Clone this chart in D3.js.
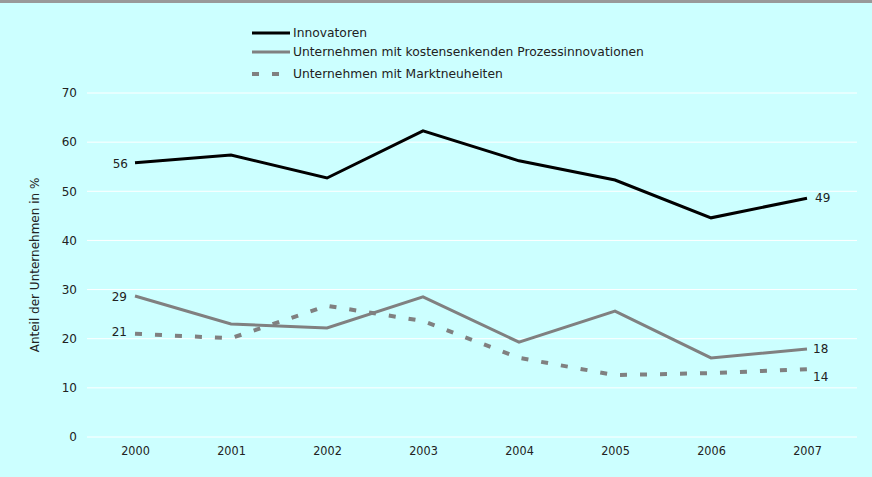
<!DOCTYPE html>
<html>
<head>
<meta charset="utf-8">
<script src="https://cdn.jsdelivr.net/npm/d3@7"></script>
<style>
  body { margin: 0; background: #ccffff; }
  svg { display: block; }
</style>
</head>
<body>
<div id="chart"></div>
<script>
// data
var years = ["2000", "2001", "2002", "2003", "2004", "2005", "2006", "2007"];
var innovatoren = [55.8, 57.4, 52.7, 62.3, 56.2, 52.3, 44.6, 48.6];
var prozess = [28.7, 23.0, 22.2, 28.5, 19.3, 25.6, 16.1, 17.9];
var markt = [21.0, 20.1, 26.7, 23.6, 16.1, 12.6, 13.0, 13.8];
var yTicks = [0, 10, 20, 30, 40, 50, 60, 70];
var seriesNames = [
  "Innovatoren",
  "Unternehmen mit kostensenkenden Prozessinnovationen",
  "Unternehmen mit Marktneuheiten",
];

var width = 872,
  height = 477;

var svg = d3
  .select("#chart")
  .append("svg")
  .attr("width", width)
  .attr("height", height)
  .style("font-family", "Verdana, 'DejaVu Sans', sans-serif");

svg.append("rect").attr("width", width).attr("height", height).attr("fill", "#ccffff");
svg.append("rect").attr("width", width).attr("height", 3).attr("fill", "#999999");

var x = d3.scalePoint().domain(years).range([135, 807]);
var y = d3.scaleLinear().domain([0, 70]).range([437, 93]);

// gridlines
svg
  .append("g")
  .selectAll("line")
  .data(yTicks)
  .enter()
  .append("line")
  .attr("x1", 87)
  .attr("x2", 857)
  .attr("y1", function (d) { return y(d); })
  .attr("y2", function (d) { return y(d); })
  .attr("stroke", "#ffffff")
  .attr("stroke-width", 1);

// y axis labels
var yAxis = svg
  .append("g")
  .attr("transform", "translate(77,0)")
  .call(d3.axisLeft(y).tickValues(yTicks).tickSize(0).tickPadding(0));
yAxis.select(".domain").remove();
yAxis
  .selectAll("text")
  .attr("font-family", "Verdana, 'DejaVu Sans', sans-serif")
  .attr("font-size", 12)
  .attr("fill", "#222");

// x axis labels
var xAxis = svg
  .append("g")
  .attr("transform", "translate(0,446)")
  .call(d3.axisBottom(x).tickSize(0).tickPadding(0));
xAxis.select(".domain").remove();
xAxis
  .selectAll("text")
  .attr("font-family", "'Liberation Sans Narrow', 'DejaVu Sans Condensed', sans-serif")
  .attr("font-size", 12.5)
  .attr("fill", "#222");

// y title
svg
  .append("text")
  .attr("transform", "translate(39,265)rotate(-90)")
  .attr("text-anchor", "middle")
  .attr("font-size", 12)
  .attr("fill", "#222")
  .text("Anteil der Unternehmen in %");

var line = d3
  .line()
  .x(function (d, i) { return x(years[i]); })
  .y(function (d) { return y(d); });

svg.append("path").datum(markt).attr("d", line).attr("fill", "none")
  .attr("stroke", "#808080").attr("stroke-width", 4).attr("stroke-dasharray", "7,13");
svg.append("path").datum(prozess).attr("d", line).attr("fill", "none")
  .attr("stroke", "#808080").attr("stroke-width", 3);
svg.append("path").datum(innovatoren).attr("d", line).attr("fill", "none")
  .attr("stroke", "#000000").attr("stroke-width", 3);

// end labels
function label(series, idx, dx, dy, anchor) {
  svg
    .append("text")
    .attr("x", x(years[idx]) + dx)
    .attr("y", y(series[idx]) + dy)
    .attr("text-anchor", anchor)
    .attr("font-size", 12)
    .attr("fill", "#222")
    .text(Math.round(series[idx]));
}
label(innovatoren, 0, -7, 5, "end");
label(prozess, 0, -8, 5, "end");
label(markt, 0, -8, 2, "end");
label(innovatoren, 7, 8, 4, "start");
label(prozess, 7, 6, 4, "start");
label(markt, 7, 6, 12, "start");

// legend
var legendY = [33, 52, 74];
var legendStyle = [
  { color: "#000000", w: 3, dash: null },
  { color: "#808080", w: 3, dash: null },
  { color: "#808080", w: 4, dash: "7,13" },
];
seriesNames.forEach(function (name, i) {
  svg
    .append("line")
    .attr("x1", 252)
    .attr("x2", 290)
    .attr("y1", legendY[i])
    .attr("y2", legendY[i])
    .attr("stroke", legendStyle[i].color)
    .attr("stroke-width", legendStyle[i].w)
    .attr("stroke-dasharray", legendStyle[i].dash);
  svg
    .append("text")
    .attr("x", 293)
    .attr("y", legendY[i] + 4)
    .attr("font-size", 12.3)
    .attr("fill", "#222")
    .text(name);
});
</script>
</body>
</html>
